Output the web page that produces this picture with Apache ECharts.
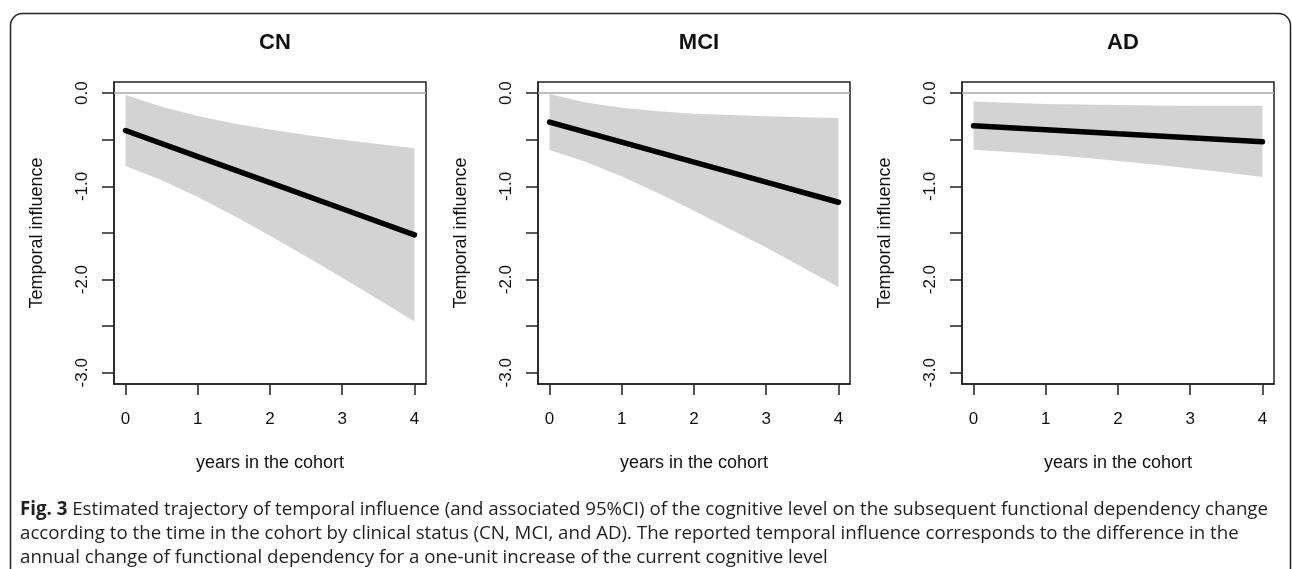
<!DOCTYPE html>
<html>
<head>
<meta charset="utf-8">
<script src="https://cdn.jsdelivr.net/npm/echarts@6/dist/echarts.min.js"></script>
<style>
html,body{margin:0;padding:0;background:#fff;}
#chart{width:1292px;height:569px;}
</style>
</head>
<body>
<div id="chart"></div>
<script>
// ---- data ----
const panelTitles = ['CN', 'MCI', 'AD'];
const fitYears = [0, 1, 2, 3, 4];
const bandYears = [0, 0.5, 1, 1.5, 2, 2.5, 3, 3.5, 4];
const xTicks = [0, 1, 2, 3, 4];
const yTicks = [0, -0.5, -1, -1.5, -2, -2.5, -3];
const yLabels = [0, -1, -2, -3];

const cnFit   = [-0.40, -0.68, -0.96, -1.24, -1.52];
const cnUpper = [-0.02, -0.146, -0.245, -0.325, -0.39, -0.448, -0.50, -0.546, -0.59];
const cnLower = [-0.78, -0.934, -1.115, -1.315, -1.53, -1.752, -1.98, -2.214, -2.45];

const mciFit   = [-0.31, -0.525, -0.74, -0.955, -1.17];
const mciUpper = [-0.01, -0.099, -0.156, -0.194, -0.22, -0.235, -0.248, -0.257, -0.265];
const mciLower = [-0.61, -0.736, -0.894, -1.071, -1.26, -1.46, -1.655, -1.868, -2.08];

const adFit   = [-0.35, -0.392, -0.435, -0.477, -0.52];
const adUpper = [-0.09, -0.102, -0.115, -0.122, -0.128, -0.131, -0.134, -0.135, -0.135];
const adLower = [-0.607, -0.63, -0.658, -0.69, -0.727, -0.765, -0.807, -0.852, -0.90];

const captionLines = [
  'Estimated trajectory of temporal influence (and associated 95%CI) of the cognitive level on the subsequent functional dependency change',
  'according to the time in the cohort by clinical status (CN, MCI, and AD). The reported temporal influence corresponds to the difference in the',
  'annual change of functional dependency for a one-unit increase of the current cognitive level'
];

// ---- layout ----
const fits = [cnFit, mciFit, adFit];
const uppers = [cnUpper, mciUpper, adUpper];
const lowers = [cnLower, mciLower, adLower];
const gridLefts = [114, 538, 962];
const gridW = 312, gridTop = 82, gridH = 302;
const FONT = '"Liberation Sans", Helvetica, Arial, sans-serif';

const chart = echarts.init(document.getElementById('chart'), null, {renderer: 'canvas'});

const grids = [], xAxes = [], yAxes = [], series = [], titles = [];
for (let p = 0; p < 3; p++) {
  grids.push({left: gridLefts[p], top: gridTop, width: gridW, height: gridH,
    show: true, borderColor: '#222', borderWidth: 1.5, backgroundColor: 'transparent'});
  xAxes.push({
    type: 'value', gridIndex: p, min: -0.16, max: 4.16,
    name: 'years in the cohort', nameLocation: 'middle', nameGap: 70,
    nameTextStyle: {fontFamily: FONT, fontSize: 18, color: '#111'},
    axisLine: {show: true, onZero: false, lineStyle: {color: '#222', width: 1.5}},
    axisTick: {show: true, length: 11, inside: false, customValues: xTicks, lineStyle: {color: '#222', width: 1.5}},
    axisLabel: {show: true, customValues: xTicks, margin: 27, fontFamily: FONT, fontSize: 17, color: '#111'},
    splitLine: {show: false}
  });
  yAxes.push({
    type: 'value', gridIndex: p, min: -3.12, max: 0.12,
    name: 'Temporal influence', nameLocation: 'middle', nameGap: 68, nameRotate: 90,
    nameTextStyle: {fontFamily: FONT, fontSize: 18, color: '#111'},
    axisLine: {show: true, onZero: false, lineStyle: {color: '#222', width: 1.5}},
    axisTick: {show: true, length: 12, inside: false, customValues: yTicks, lineStyle: {color: '#222', width: 1.5}},
    axisLabel: {show: true, customValues: yLabels, rotate: 90, margin: 23, fontFamily: FONT, fontSize: 17, color: '#111',
      formatter: v => Number(v).toFixed(1)},
    splitLine: {show: false}
  });
  const up = uppers[p], lo = lowers[p];
  series.push({
    type: 'custom', xAxisIndex: p, yAxisIndex: p, silent: true, z: 1,
    data: [[0, 0]],
    renderItem: function (params, api) {
      const pts = [];
      for (let i = 0; i < bandYears.length; i++) pts.push(api.coord([bandYears[i], up[i]]));
      for (let i = bandYears.length - 1; i >= 0; i--) pts.push(api.coord([bandYears[i], lo[i]]));
      return {type: 'polygon', shape: {points: pts}, style: {fill: '#d3d3d3', stroke: null}};
    },
    markLine: {silent: true, symbol: 'none', label: {show: false}, animation: false,
      lineStyle: {color: '#a8a8a8', width: 1.6, type: 'solid'}, data: [{yAxis: 0}]}
  });
  series.push({
    type: 'line', xAxisIndex: p, yAxisIndex: p, silent: true, z: 3,
    data: fitYears.map((x, i) => [x, fits[p][i]]),
    symbol: 'none', lineStyle: {color: '#000', width: 5.5, cap: 'round'}
  });
  titles.push({text: panelTitles[p], left: gridLefts[p] + gridW / 2, top: 27, textAlign: 'center',
    textStyle: {fontFamily: FONT, fontSize: 22, fontWeight: 'bold', color: '#111'}});
}

const capFont = '"Open Sans", "Noto Sans", sans-serif';
const CAP = 18.7;
const graphics = [
  {type: 'rect', shape: {x: 10.5, y: 13.5, width: 1280, height: 620, r: 12},
    style: {fill: 'none', stroke: '#222', lineWidth: 1.5}, silent: true, z: -1},
  {type: 'text', left: 20, top: 500, style: {
    text: '{b|Fig. 3} ' + captionLines[0], rich: {b: {fontWeight: 'bold', fontFamily: capFont, fontSize: CAP, fill: '#231f20'}},
    fontFamily: capFont, fontSize: CAP, fill: '#231f20'}},
  {type: 'text', left: 20, top: 524, style: {text: captionLines[1], fontFamily: capFont, fontSize: CAP, fill: '#231f20'}},
  {type: 'text', left: 20, top: 548, style: {text: captionLines[2], fontFamily: capFont, fontSize: CAP, fill: '#231f20'}}
];

chart.setOption({
  animation: false,
  backgroundColor: '#fff',
  title: titles,
  grid: grids,
  xAxis: xAxes,
  yAxis: yAxes,
  series: series,
  graphic: graphics
});
</script>
</body>
</html>
